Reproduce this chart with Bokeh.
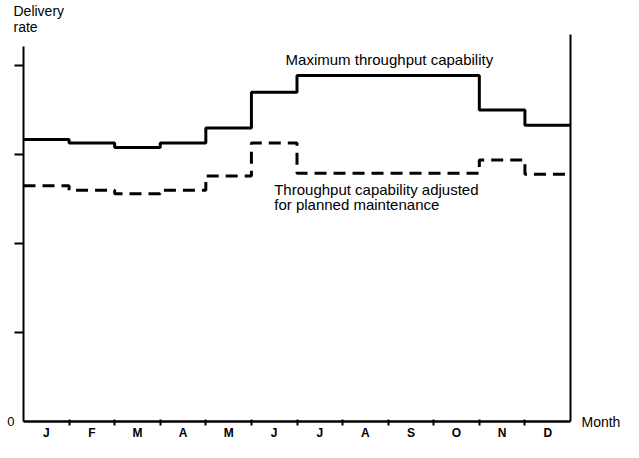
from bokeh.plotting import figure
from bokeh.models import Range1d, FixedTicker, LinearAxis, Label
from bokeh.embed import file_html
from bokeh.resources import INLINE

months = ["J", "F", "M", "A", "M", "J", "J", "A", "S", "O", "N", "D"]
max_capability = [3.17, 3.13, 3.08, 3.13, 3.30, 3.70, 3.89, 3.89, 3.89, 3.89, 3.50, 3.33]
adjusted_capability = [2.65, 2.60, 2.56, 2.60, 2.76, 3.13, 2.79, 2.79, 2.79, 2.79, 2.94, 2.78]
y_ticks = [1, 2, 3, 4]

FONT = "Liberation Sans"

p = figure(width=623, height=442, output_backend="svg", toolbar_location=None,
           x_range=Range1d(0, 12), y_range=Range1d(0, 4.35),
           min_border_left=23, min_border_right=52, min_border_top=0, min_border_bottom=0)
p.outline_line_color = None
p.xgrid.visible = False
p.ygrid.visible = False
p.background_fill_color = "white"
p.border_fill_color = "white"

p.title.text = "Delivery\nrate"
p.title.align = "left"
p.title.offset = -10
p.title.standoff = 0
p.title.text_font = FONT
p.title.text_font_size = "14px"
p.title.text_font_style = "normal"
p.title.text_color = "black"
p.title.text_line_height = 1.0

xs = list(range(13))
p.step(xs, max_capability + [max_capability[-1]], mode="after",
       line_color="black", line_width=3)
p.step(xs, adjusted_capability + [adjusted_capability[-1]], mode="after",
       line_color="black", line_width=3, line_dash="12 7")

xa = p.xaxis[0]
centers = [i + 0.5 for i in range(12)]
xa.ticker = FixedTicker(ticks=centers, minor_ticks=list(range(1, 12)))
xa.major_label_overrides = {c: m for c, m in zip(centers, months)}
xa.major_tick_line_color = None
xa.major_tick_in = 0
xa.major_tick_out = 0
xa.minor_tick_in = 2
xa.minor_tick_out = 4
xa.minor_tick_line_width = 2
xa.minor_tick_line_color = "black"
xa.axis_line_width = 2.5
xa.axis_line_color = "black"
xa.major_label_standoff = 0
xa.major_label_text_font = FONT
xa.major_label_text_font_style = "bold"
xa.major_label_text_font_size = "12px"
xa.major_label_text_color = "black"

ya = p.yaxis[0]
ya.ticker = FixedTicker(ticks=[0], minor_ticks=y_ticks)
ya.bounds = (0, 4.22)
ya.major_tick_line_color = None
ya.major_tick_in = 0
ya.major_tick_out = 0
ya.minor_tick_in = 0
ya.minor_tick_out = 9
ya.minor_tick_line_width = 2
ya.minor_tick_line_color = "black"
ya.axis_line_width = 2
ya.axis_line_color = "black"
ya.major_label_standoff = 0
ya.major_label_text_font = FONT
ya.major_label_text_font_size = "13px"
ya.major_label_text_color = "black"

ra = LinearAxis(ticker=FixedTicker(ticks=[0]), axis_line_width=2, axis_line_color="black",
                major_tick_line_color=None, minor_tick_line_color=None,
                major_tick_in=0, major_tick_out=0,
                major_label_overrides={0: "Month"}, major_label_standoff=11,
                major_label_text_font=FONT, major_label_text_font_size="14px",
                major_label_text_color="black")
p.add_layout(ra, "right")

p.add_layout(Label(x=5.75, y=4.065, text="Maximum throughput capability",
                   text_font=FONT, text_font_size="15px", text_baseline="middle",
                   text_align="left", text_color="black"))
p.add_layout(Label(x=5.50, y=2.61, text="Throughput capability adjusted",
                   text_font=FONT, text_font_size="15px", text_baseline="middle",
                   text_align="left", text_color="black"))
p.add_layout(Label(x=5.50, y=2.44, text="for planned maintenance",
                   text_font=FONT, text_font_size="15px", text_baseline="middle",
                   text_align="left", text_color="black"))

open("out.html", "w").write(file_html(p, INLINE))
